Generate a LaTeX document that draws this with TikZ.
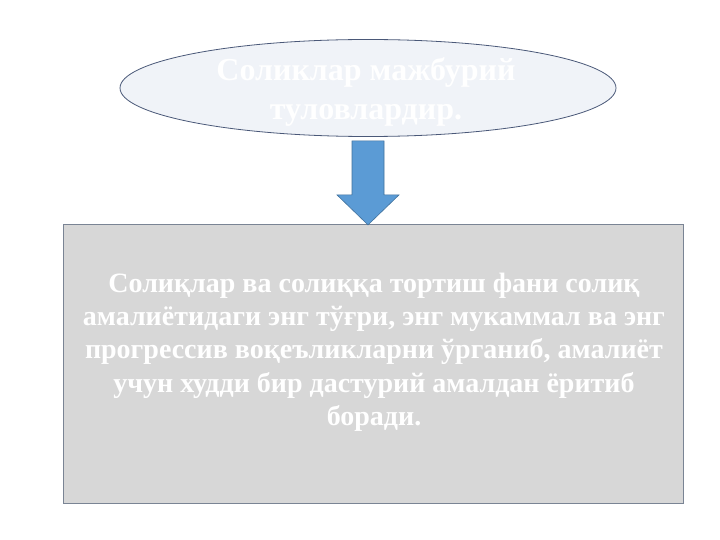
\documentclass[tikz,border=0pt]{standalone}
\usepackage{fontspec}
\setmainfont{Liberation Serif}
\usetikzlibrary{shapes.geometric}
\definecolor{ovalfill}{HTML}{F0F3F8}
\definecolor{ovalline}{HTML}{4A5878}
\definecolor{boxfill}{HTML}{D7D7D7}
\definecolor{boxline}{HTML}{7A8494}
\definecolor{arrowline}{HTML}{41719C}
\definecolor{arrowfill}{HTML}{5B9BD5}
\begin{document}
\begin{tikzpicture}[x=1pt,y=-1pt,
    oval/.style={ellipse,draw=ovalline,fill=ovalfill,line width=0.8pt,
      minimum width=496pt,minimum height=97pt,inner sep=0pt},
    ovaltext/.style={text=white,font=\bfseries\fontsize{32}{39}\selectfont,align=center},
    textbox/.style={rectangle,draw=boxline,fill=boxfill,line width=0.9pt,
      minimum width=620pt,minimum height=279pt},
    boxtext/.style={text=white,font=\bfseries\fontsize{28}{33.3}\selectfont,align=center},
    downarrow/.style={draw=arrowline,fill=arrowfill,line width=0.6pt,line join=miter}]
  \useasboundingbox (0,0) rectangle (720,540);
  \node[oval] (tax) at (368,88) {};
  \node[ovaltext] (taxtext) at (366,92) {Соликлар мажбурий\\туловлардир.};
  \node[textbox] (science) at (373,364) {};
  \node[boxtext] (sciencetext) at (374,352) {Солиқлар ва солиққа тортиш фани солиқ\\
    амалиётидаги энг тўғри, энг мукаммал ва энг\\
    прогрессив воқеъликларни ўрганиб, амалиёт\\
    учун худди бир дастурий амалдан ёритиб\\
    боради.};
  % block arrow from the oval down to the box
  \coordinate (shafttop) at (tax.south);
  \draw[downarrow] (shafttop) ++(-16,4) -- ++(32,0) -- ++(0,54) -- ++(15,0)
    -- ++(-31,30) -- ++(-31,-30) -- ++(15,0) -- cycle;
\end{tikzpicture}
\end{document}
